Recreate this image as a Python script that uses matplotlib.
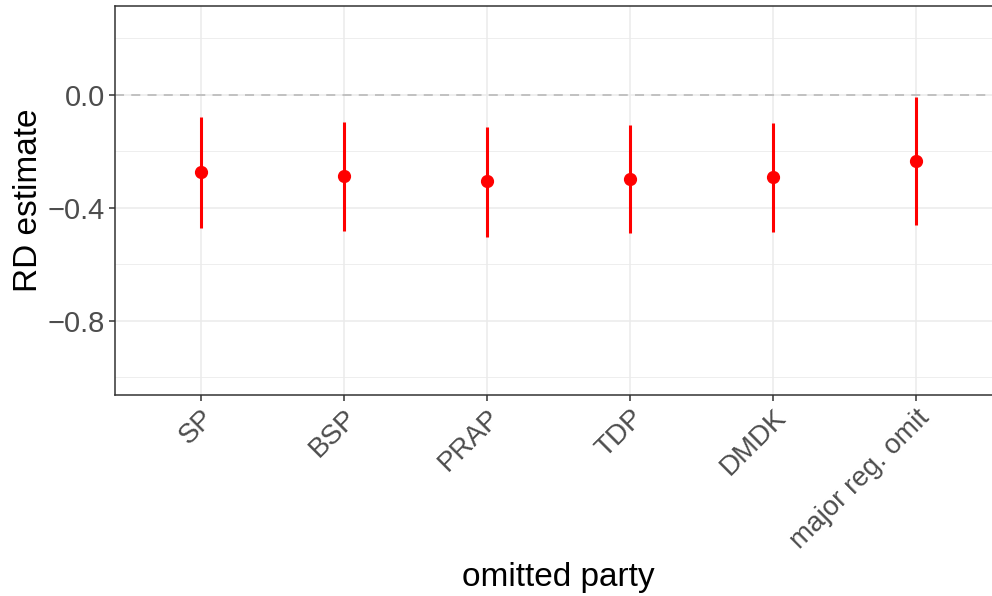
import matplotlib
matplotlib.use("Agg")
import matplotlib.pyplot as plt

plt.rcParams["font.family"] = ["Liberation Sans", "DejaVu Sans"]

parties = ["SP", "BSP", "PRAP", "TDP", "DMDK", "major reg. omit"]
estimate = [-0.273, -0.287, -0.304, -0.297, -0.291, -0.232]
ci_low = [-0.470, -0.481, -0.503, -0.488, -0.485, -0.459]
ci_high = [-0.077, -0.096, -0.113, -0.106, -0.099, -0.007]

fig = plt.figure(figsize=(9.92, 5.96), dpi=100)
# panel runs slightly past the right edge, like the cropped original
ax = fig.add_axes([115 / 992, 1 - 395 / 596, 887 / 992, 389 / 596])

xs = list(range(1, len(parties) + 1))

ax.axhline(0, color="#BEBEBE", lw=1.3, ls=(0, (5, 4)), zorder=2)
ax.vlines(xs, ci_low, ci_high, color="red", lw=2.2, zorder=3)
ax.plot(xs, estimate, "o", color="red", ms=8.5, zorder=4)

ax.set_xlim(0.4, 6.6)
ax.set_ylim(-1.062, 0.315)
ax.set_xticks(xs)
ax.set_xticklabels(parties)
ax.set_yticks([0.0, -0.4, -0.8])
ax.set_yticklabels(["0.0", "\u22120.4", "\u22120.8"])
ax.set_yticks([0.2, -0.2, -0.6, -1.0], minor=True)

ax.grid(True, which="major", color="#EBEBEB", lw=1.1, zorder=0)
ax.grid(True, which="minor", axis="y", color="#EBEBEB", lw=0.6, zorder=0)
ax.set_axisbelow(True)

for s in ax.spines.values():
    s.set_color("#333333")
    s.set_linewidth(1.1)

ax.tick_params(axis="both", which="major", colors="#333333", length=4, width=1.1,
               labelcolor="#4D4D4D", pad=3)
ax.tick_params(axis="y", labelsize=21)
ax.tick_params(axis="x", labelsize=20)
ax.tick_params(axis="y", which="minor", length=0)
for lab in ax.get_xticklabels():
    lab.set_rotation(45)
    lab.set_ha("right")
    lab.set_va("top")
    lab.set_rotation_mode("anchor")

ax.set_xlabel("omitted party", fontsize=24, labelpad=6)
ax.set_ylabel("RD estimate", fontsize=24, labelpad=2.5)

fig.savefig("out.png", dpi=100)
